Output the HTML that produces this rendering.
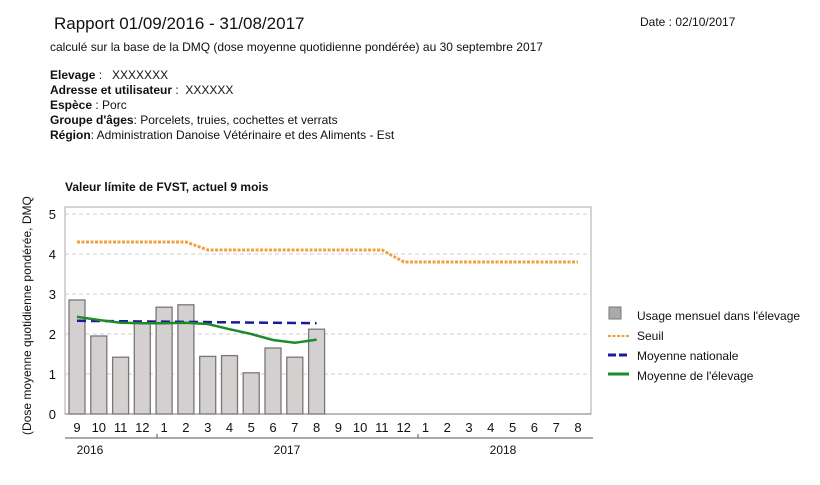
<!DOCTYPE html>
<html><head><meta charset="utf-8"><style>
body{margin:0;background:#fff;width:820px;height:485px;overflow:hidden}
svg{display:block}
text{font-family:"Liberation Sans",sans-serif;fill:#111}
</style></head><body>
<svg width="820" height="485" viewBox="0 0 820 485">
<text x="54" y="29" font-size="17">Rapport 01/09/2016 - 31/08/2017</text>
<text x="640" y="26" font-size="12">Date : 02/10/2017</text>
<text x="50" y="51" font-size="12">calculé sur la base de la DMQ (dose moyenne quotidienne pondérée) au 30 septembre 2017</text>
<text x="50" y="79" font-size="12"><tspan font-weight="bold">Elevage</tspan> :&#160;&#160;&#160;XXXXXXX</text>
<text x="50" y="94" font-size="12"><tspan font-weight="bold">Adresse et utilisateur</tspan> :&#160;&#160;XXXXXX</text>
<text x="50" y="109" font-size="12"><tspan font-weight="bold">Espèce</tspan> : Porc</text>
<text x="50" y="124" font-size="12"><tspan font-weight="bold">Groupe d'âges</tspan>: Porcelets, truies, cochettes et verrats</text>
<text x="50" y="139" font-size="12"><tspan font-weight="bold">Région</tspan>: Administration Danoise Vétérinaire et des Aliments - Est</text>
<text x="65" y="191" font-size="12" font-weight="bold">Valeur límite de FVST, actuel 9 mois</text>
<text transform="translate(31,435) rotate(-90)" font-size="12">(Dose moyenne quotidienne pondérée, DMQ</text>
<rect x="65" y="207" width="526" height="207" fill="none" stroke="#aaa"/>
<g stroke="#ccc" stroke-dasharray="4,3">
<line x1="65" x2="591" y1="214" y2="214"/><line x1="65" x2="591" y1="254" y2="254"/><line x1="65" x2="591" y1="294" y2="294"/><line x1="65" x2="591" y1="334" y2="334"/><line x1="65" x2="591" y1="374" y2="374"/>
</g>
<g font-size="13" text-anchor="end">
<text x="56" y="219">5</text><text x="56" y="259">4</text><text x="56" y="299">3</text><text x="56" y="339">2</text><text x="56" y="379">1</text><text x="56" y="419">0</text>
</g>
<g fill="#d4d0d0" stroke="#777" stroke-width="1.3">
<rect x="69" y="300" width="16" height="114"/>
<rect x="90.8" y="336" width="16" height="78"/>
<rect x="112.6" y="357.2" width="16" height="56.8"/>
<rect x="134.3" y="323.2" width="16" height="90.8"/>
<rect x="156.1" y="307.2" width="16" height="106.8"/>
<rect x="177.9" y="304.8" width="16" height="109.2"/>
<rect x="199.7" y="356.4" width="16" height="57.6"/>
<rect x="221.5" y="355.6" width="16" height="58.4"/>
<rect x="243.2" y="372.8" width="16" height="41.2"/>
<rect x="265" y="348" width="16" height="66"/>
<rect x="286.8" y="357.2" width="16" height="56.8"/>
<rect x="308.6" y="329.2" width="16" height="84.8"/>
</g>
<polyline points="77,242 186,242 208,250 382,250 404,262 578,262" fill="none" stroke="#f0a040" stroke-width="3" stroke-dasharray="3,1.5"/>
<line x1="77" y1="320.8" x2="316.6" y2="323.2" stroke="#1a1a9a" stroke-width="2.5" stroke-dasharray="9,5"/>
<polyline points="77,316.8 98.8,320 120.6,322.8 142.3,323.2 164.1,323.2 185.9,322.8 207.7,324 229.5,329.2 251.2,334 273,340 294.8,342.8 316.6,339.6" fill="none" stroke="#1e8a2a" stroke-width="2.5"/>
<g stroke="#777"><line x1="65" y1="414" x2="591" y2="414"/></g>
<g font-size="13" text-anchor="middle">
<text x="77" y="432">9</text><text x="98.8" y="432">10</text><text x="120.6" y="432">11</text><text x="142.3" y="432">12</text><text x="164.1" y="432">1</text><text x="185.9" y="432">2</text><text x="207.7" y="432">3</text><text x="229.5" y="432">4</text><text x="251.2" y="432">5</text><text x="273" y="432">6</text><text x="294.8" y="432">7</text><text x="316.6" y="432">8</text><text x="338.4" y="432">9</text><text x="360.1" y="432">10</text><text x="381.9" y="432">11</text><text x="403.7" y="432">12</text><text x="425.5" y="432">1</text><text x="447.3" y="432">2</text><text x="469" y="432">3</text><text x="490.8" y="432">4</text><text x="512.6" y="432">5</text><text x="534.4" y="432">6</text><text x="556.2" y="432">7</text><text x="578" y="432">8</text>
</g>
<line x1="65" y1="438" x2="593" y2="438" stroke="#555"/>
<line x1="157" y1="434" x2="157" y2="438" stroke="#555"/>
<line x1="418" y1="434" x2="418" y2="438" stroke="#555"/>
<g font-size="12" text-anchor="middle"><text x="90" y="454">2016</text><text x="287" y="454">2017</text><text x="503" y="454">2018</text></g>
<rect x="609" y="307" width="12" height="12" fill="#aaa" stroke="#777"/>
<line x1="608" y1="336" x2="629" y2="336" stroke="#f0a040" stroke-width="2" stroke-dasharray="3,1.5"/>
<line x1="608" y1="355" x2="629" y2="355" stroke="#1a1a9a" stroke-width="3" stroke-dasharray="8,3"/>
<line x1="608" y1="374" x2="629" y2="374" stroke="#1e8a2a" stroke-width="3"/>
<g font-size="12"><text x="637" y="320">Usage mensuel dans l'élevage</text><text x="637" y="340">Seuil</text><text x="637" y="360">Moyenne nationale</text><text x="637" y="380">Moyenne de l'élevage</text></g>
</svg>
</body></html>
